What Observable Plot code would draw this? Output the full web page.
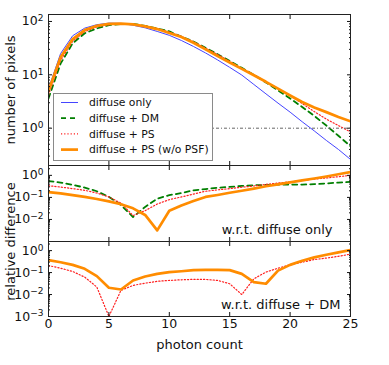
<!DOCTYPE html>
<html><head><meta charset="utf-8">
<script src="https://cdn.jsdelivr.net/npm/d3@7"></script>
<script src="https://cdn.jsdelivr.net/npm/@observablehq/plot@0.6"></script>
<style>
body{margin:0;background:#fff;}
#wrap{position:relative;width:389px;height:365px;font-family:"DejaVu Sans",sans-serif;}
#wrap > svg{position:absolute;left:0;overflow:visible;}
#legend{position:absolute;left:53px;top:93px;width:158px;height:66px;background:#fff;border:1px solid #8a8a8a;}
</style></head><body><div id="wrap"></div>
<script>
// ---- data ----
const photon = [0,1,2,3,4,5,6,7,8,9,10,11,12,13,14,15,16,17,18,19,20,21,22,23,24,25];
const seriesNames = ["diffuse only","diffuse + DM","diffuse + PS","diffuse + PS (w/o PSF)"];
// number of pixels
const pixDiffuse = [5.5,25,54,75,87,93,92,85,76,65,55,44,34,25.7,19,13.8,9.9,6.6,4.4,2.95,2.0,1.32,0.89,0.59,0.40,0.26];
const pixDM      = [3.6,16.2,39,60,74,85,90,90,83,74,65,52,42,32,24.3,18.2,13.5,10,7.2,5.1,3.6,2.5,1.7,1.12,0.72,0.46];
const pixPS      = [4.2,18.6,42.7,64.6,79,87,90,88,82,73,63,52.5,41.7,31.6,24,17.8,13.2,10,7.4,5.5,4.1,2.9,2.05,1.48,1.12,0.85];
const pixPSnoPSF = [5.0,21.4,46.8,69,83,90,91,88,81,72,61,51,40,30,22.4,17,12.9,9.8,7.4,5.5,4.1,3.1,2.45,2.0,1.62,1.35];
// relative difference w.r.t. diffuse only
const relDM_vsD      = [0.55,0.47,0.37,0.28,0.19,0.107,0.045,0.0129,0.037,0.087,0.126,0.158,0.209,0.24,0.275,0.30,0.33,0.355,0.37,0.38,0.38,0.38,0.40,0.43,0.47,0.51];
const relPS_vsD      = [0.34,0.295,0.25,0.21,0.158,0.105,0.055,0.015,0.025,0.05,0.079,0.105,0.141,0.19,0.22,0.25,0.29,0.33,0.39,0.45,0.51,0.59,0.68,0.76,0.87,1.0];
const relPSnoPSF_vsD = [0.174,0.151,0.126,0.105,0.085,0.066,0.049,0.032,0.016,0.0032,0.025,0.043,0.068,0.105,0.129,0.162,0.20,0.25,0.32,0.39,0.48,0.59,0.72,0.89,1.12,1.41];
// relative difference w.r.t. diffuse + DM
const relPS_vsDM      = [0.209,0.158,0.112,0.062,0.022,0.001,0.0155,0.026,0.033,0.04,0.044,0.047,0.049,0.049,0.044,0.031,0.01,0.052,0.105,0.158,0.229,0.295,0.39,0.457,0.55,0.69];
const relPSnoPSF_vsDM = [0.37,0.295,0.224,0.148,0.069,0.0204,0.017,0.0437,0.066,0.087,0.105,0.115,0.129,0.132,0.132,0.129,0.087,0.037,0.031,0.123,0.224,0.347,0.49,0.645,0.83,1.05];
// ticks
const xTicks = [0,5,10,15,20,25];
const yTicksTop = [1,10,100];
const yTicksMid = [0.01,0.1,1];
const yTicksBot = [0.001,0.01,0.1,1];

// ---- styles ----
const styles = [
  {stroke:"#4545ff", strokeWidth:1},
  {stroke:"#007f00", strokeWidth:1.8, strokeDasharray:"5,4"},
  {stroke:"#ff2020", strokeWidth:1.2, strokeDasharray:"1.2,2"},
  {stroke:"#ff8c00", strokeWidth:2.7}
];
const supMap = {"0":"⁰","1":"¹","2":"²","3":"³","4":"⁴","-":"⁻"};
const fmt = d => "10" + String(Math.round(Math.log10(d))).split("").map(c => supMap[c]).join("");
function minorTicks(lo, hi) {
  const out = [];
  for (let e = -4; e <= 3; e++) for (let m = 2; m <= 9; m++) { const v = m * Math.pow(10, e); if (v >= lo && v <= hi) out.push(v); }
  return out;
}
const tbl = (ys) => photon.map((x, i) => ({x, v: ys[i]}));

function panel({height, marginTop, marginBottom, domain, series, yTicks, xLabels, extra}) {
  const marks = [];
  for (const [ys, st] of series) marks.push(Plot.lineY(tbl(ys), {x:"x", y:"v", clip:true, ...st}));
  marks.push(
    Plot.axisY({ticks: yTicks, tickFormat: fmt, tickSize: -4, tickPadding: 9, fontSize: 12.5, label: null}),
    Plot.axisY({ticks: minorTicks(domain[0], domain[1]), tickFormat: () => "", tickSize: -2, label: null}),
    Plot.axisY({anchor:"right", ticks: yTicks, tickFormat: () => "", tickSize: -4, label: null}),
    Plot.axisY({anchor:"right", ticks: minorTicks(domain[0], domain[1]), tickFormat: () => "", tickSize: -2, label: null}),
    Plot.axisX({anchor:"top", ticks: xTicks, tickFormat: () => "", tickSize: -4, label: null}),
    Plot.axisX({anchor:"bottom", ticks: xTicks, tickFormat: xLabels ? (d => String(d)) : () => "", tickSize: -4, tickPadding: 7, fontSize: 12.5, label: null}),
    ...extra,
    Plot.frame({stroke:"#222", strokeWidth:1})
  );
  const svg = Plot.plot({
    width: 389, height, marginLeft: 48, marginRight: 39, marginTop, marginBottom,
    x: {type: "linear", domain: [0, 25]},
    y: {type: "log", domain},
    style: {fontFamily: "DejaVu Sans", fontSize: "13px", background: "transparent", overflow: "visible", color: "#111"},
    marks
  });
  // render exponents as raised, smaller text (like mathtext)
  const back = {"⁰":"0","¹":"1","²":"2","³":"3","⁴":"4","⁻":"−"};
  svg.querySelectorAll("text").forEach(t => {
    const s = t.textContent;
    const m = /^10([⁰¹²³⁴⁻]+)$/.exec(s);
    if (!m || t.children.length) return;
    t.textContent = "10";
    const ts = document.createElementNS("http://www.w3.org/2000/svg", "tspan");
    ts.setAttribute("dy", "-0.45em");
    ts.setAttribute("font-size", "72%");
    ts.textContent = m[1].split("").map(c => back[c]).join("");
    t.appendChild(ts);
  });
  return svg;
}

const wrap = document.getElementById("wrap");

const topPanel = panel({
  height: 165, marginTop: 14, marginBottom: 0, domain: [0.2, 135],
  series: [[pixDiffuse, styles[0]], [pixDM, styles[1]], [pixPS, styles[2]], [pixPSnoPSF, styles[3]]],
  yTicks: yTicksTop, xLabels: false,
  extra: [
    Plot.ruleY([1], {stroke:"#666", strokeWidth:1, strokeDasharray:"3,2,1,2"}),
    Plot.text(["number of pixels"], {frameAnchor:"left", lineAnchor:"middle", rotate:-90, dx:-38, fontSize:13, textAnchor:"middle"})
  ]
});
topPanel.style.top = "0px";

const midPanel = panel({
  height: 76, marginTop: 0, marginBottom: 0, domain: [0.001, 2.8],
  series: [[relDM_vsD, styles[1]], [relPS_vsD, styles[2]], [relPSnoPSF_vsD, styles[3]]],
  yTicks: yTicksMid, xLabels: false,
  extra: [Plot.text(["w.r.t. diffuse only"], {frameAnchor:"bottom-right", lineAnchor:"middle", textAnchor:"end", dx:-18, dy:-12, fontSize:13})]
});
midPanel.style.top = "165px";

const botPanel = panel({
  height: 124, marginTop: 0, marginBottom: 49, domain: [0.001, 2.6],
  series: [[relPS_vsDM, styles[2]], [relPSnoPSF_vsDM, styles[3]]],
  yTicks: yTicksBot, xLabels: true,
  extra: [
    Plot.text(["w.r.t. diffuse + DM"], {frameAnchor:"bottom-right", lineAnchor:"middle", textAnchor:"end", dx:-10, dy:-12, fontSize:13}),
    Plot.text(["relative difference"], {frameAnchor:"top-left", lineAnchor:"middle", rotate:-90, dx:-38, dy:0, fontSize:13, textAnchor:"middle"}),
    Plot.text(["photon count"], {frameAnchor:"bottom", lineAnchor:"middle", dy:28, fontSize:13})
  ]
});
botPanel.style.top = "241px";

wrap.append(topPanel, midPanel, botPanel);

// legend
const leg = document.createElement("div");
leg.id = "legend";
wrap.append(leg);
const lsvg = d3.select(leg).append("svg").attr("width", 158).attr("height", 66).style("position","absolute").style("left","0").style("top","0");
seriesNames.forEach((name, i) => {
  const y = 8.5 + i * 15.7;
  const st = styles[i];
  lsvg.append("line").attr("x1", 7).attr("x2", 24).attr("y1", y).attr("y2", y)
    .attr("stroke", st.stroke).attr("stroke-width", st.strokeWidth).attr("stroke-dasharray", st.strokeDasharray || null);
  lsvg.append("text").attr("x", 35).attr("y", y).attr("dy", "0.35em")
    .attr("font-family", "DejaVu Sans").attr("font-size", 10.8).attr("fill", "#111").text(name);
});
</script></body></html>
